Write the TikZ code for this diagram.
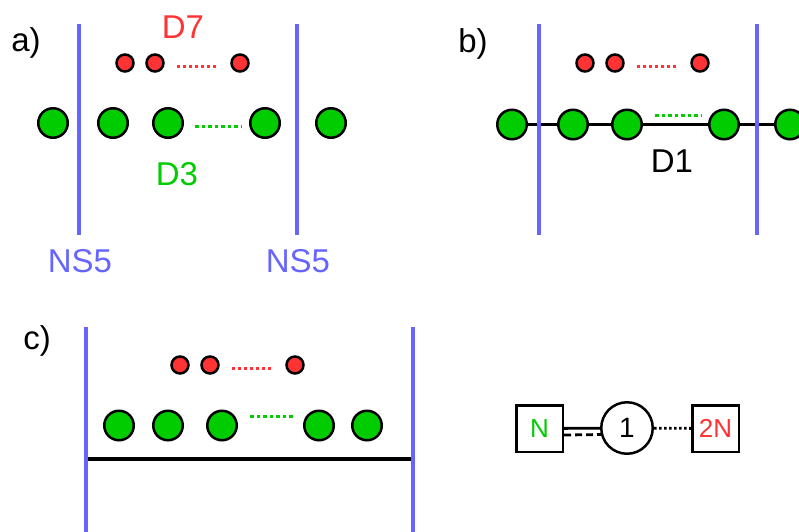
\documentclass[tikz,border=0pt]{standalone}
\usepackage{fontspec}
\setmainfont{Liberation Sans}
\definecolor{dgreen}{RGB}{0,204,0}
\definecolor{dred}{RGB}{255,51,51}
\definecolor{nsblue}{RGB}{102,102,255}
\begin{document}
\begin{tikzpicture}[x=1pt,y=-1pt,
    lbl/.style={font=\fontsize{33}{36}\selectfont,anchor=base,inner sep=0pt},
    dthree/.style={circle,draw,line width=2.5pt,fill=dgreen,minimum size=29.5pt,inner sep=0pt},
    dseven/.style={circle,draw,line width=2.5pt,fill=dred,minimum size=17pt,inner sep=0pt},
    nsfive/.style={nsblue,line width=3.2pt},
    done/.style={line width=3.5pt},
    gdots/.style={dgreen,line width=3pt,dash pattern=on 3.5pt off 3pt},
    rdots/.style={dred,line width=3pt,dash pattern=on 3pt off 3pt},
    flav/.style={draw,line width=2.5pt,minimum size=46.5pt,inner sep=0pt,font=\fontsize{26}{30}\selectfont},
    gauge/.style={circle,draw,line width=2.5pt,minimum size=51.5pt,inner sep=0pt,font=\fontsize{28}{30}\selectfont}]
    \useasboundingbox (0,0) rectangle (799,531);
    \clip (0,0) rectangle (799,531);

    % a) D3 branes between two NS5
    \coordinate (at1) at (79,24); \coordinate (ab1) at (79,235);
    \coordinate (at2) at (297,24); \coordinate (ab2) at (297,235);
    \coordinate (ar0) at (177,66); \coordinate (ar9) at (217,66);
    \coordinate (ag0) at (195,126); \coordinate (ag9) at (241,126);

    \draw[nsfive] (at1)--(ab1); \draw[nsfive] (at2)--(ab2);
    \foreach \n/\x in {1/125,2/155,3/240} \node[dseven] (ar\n) at (\x,63) {};
    \foreach \n/\x in {1/53,2/113,3/168,4/265,5/331} \node[dthree] (ag\n) at (\x,123) {};
    \draw[rdots] (ar0)--(ar9); \draw[gdots] (ag0)--(ag9);

    \node[lbl] (la) at (26,51) {a)};
    \node[lbl,dred] (lda) at (183,38) {D7};
    \node[lbl,dgreen] (ldb) at (177,185) {D3};
    \node[lbl,nsblue] (lna) at (80,272) {NS5}; \node[lbl,nsblue] (lnb) at (298,272) {NS5};

    % b) D1 through the D3
    \coordinate (bt1) at (539,24); \coordinate (bb1) at (539,235);
    \coordinate (bt2) at (757,24); \coordinate (bb2) at (757,235);
    \coordinate (br0) at (637,66); \coordinate (br9) at (677,66);
    \coordinate (bg0) at (655,115); \coordinate (bg9) at (701,115);
    \coordinate (bend) at (815,124.5);

    \foreach \n/\x in {1/585,2/615,3/700} \node[dseven] (br\n) at (\x,63) {};
    \foreach \n/\x in {1/512,2/573,3/627,4/724,5/790} \node[dthree] (bg\n) at (\x,124.5) {};
    \draw[done] (bg1)--(bg2)--(bg3)--(bg4)--(bg5)--(bend);
    \draw[nsfive] (bt1)--(bb1); \draw[nsfive] (bt2)--(bb2);
    \draw[rdots] (br0)--(br9); \draw[gdots] (bg0)--(bg9);

    \node[lbl] (lb) at (473,52) {b)};
    \node[lbl] (ldc) at (672,172) {D1};

    % c) D3 on a D1 between NS5
    \coordinate (ct1) at (86,327); \coordinate (cb1) at (86,535);
    \coordinate (ct2) at (413,327); \coordinate (cb2) at (413,535);
    \coordinate (cl) at (86,459); \coordinate (cr) at (413,459);
    \coordinate (cr0) at (232,368); \coordinate (cr9) at (272,368);
    \coordinate (cg0) at (250,416); \coordinate (cg9) at (295,416);

    \draw[done] (cl)--(cr);
    \draw[nsfive] (ct1)--(cb1); \draw[nsfive] (ct2)--(cb2);
    \foreach \n/\x in {1/180,2/210,3/295} \node[dseven] (cr\n) at (\x,365) {};
    \foreach \n/\x in {1/119,2/168,3/222,4/319,5/367} \node[dthree] (cg\n) at (\x,425.5) {};
    \draw[rdots] (cr0)--(cr9); \draw[gdots] (cg0)--(cg9);

    \node[lbl] (lc) at (37,349) {c)};

    % quiver
    \node[flav,text=dgreen] (qn) at (539.5,428.5) {N};
    \node[gauge] (qg) at (627,428) {1};
    \node[flav,text=dred] (qf) at (715.5,428.5) {2N};
    \draw[line width=2.8pt] (qn)--(qg);
    \draw[line width=2.8pt,dash pattern=on 7pt off 4pt] ([yshift=-6.5pt]qn.east)--(qg.194);
    \draw[line width=2.8pt,dash pattern=on 2.5pt off 2.5pt] (qg)--(qf);
\end{tikzpicture}
\end{document}
